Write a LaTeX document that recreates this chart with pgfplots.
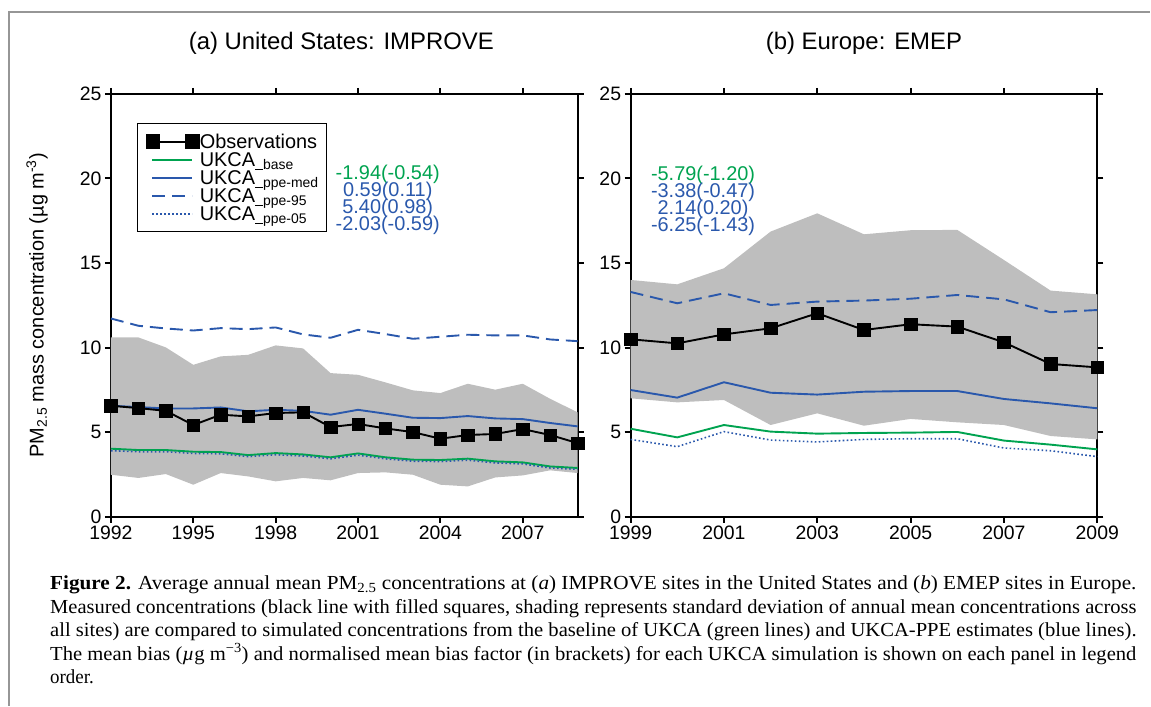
\documentclass[border=0pt]{standalone}
\usepackage{fontspec}
\setmainfont{Liberation Sans}
\newfontfamily\capfont{Liberation Serif}
\usepackage{graphicx}
\usepackage{pgfplots}
\pgfplotsset{compat=1.18}
\usepackage{pgfplotstable}
\usepgfplotslibrary{fillbetween}

\definecolor{ukgreen}{RGB}{0,163,80}
\definecolor{ukblue}{RGB}{42,88,172}
\definecolor{shadegray}{RGB}{190,190,190}
\definecolor{framegray}{RGB}{150,150,150}

\pgfplotstableread{
year obs med p95 base p05 up lo
1992 6.56 6.56 11.72 4.02 3.90 10.60 2.48
1993 6.42 6.48 11.29 3.94 3.84 10.60 2.29
1994 6.26 6.40 11.13 3.94 3.84 10.01 2.52
1995 5.42 6.40 11.01 3.84 3.74 8.98 1.89
1996 6.03 6.46 11.15 3.82 3.72 9.48 2.58
1997 5.93 6.23 11.09 3.64 3.55 9.57 2.38
1998 6.13 6.32 11.19 3.76 3.66 10.13 2.09
1999 6.17 6.26 10.78 3.68 3.59 9.95 2.29
2000 5.30 6.03 10.58 3.51 3.42 8.49 2.15
2001 5.48 6.32 11.05 3.74 3.64 8.39 2.58
2002 5.22 6.09 10.80 3.51 3.42 7.94 2.62
2003 5.00 5.85 10.52 3.37 3.28 7.47 2.48
2004 4.61 5.83 10.64 3.35 3.26 7.31 1.89
2005 4.83 5.95 10.76 3.43 3.34 7.86 1.79
2006 4.89 5.81 10.72 3.27 3.18 7.51 2.32
2007 5.18 5.77 10.72 3.21 3.12 7.86 2.44
2008 4.83 5.54 10.48 2.97 2.88 6.97 2.74
2009 4.35 5.34 10.38 2.88 2.80 6.17 2.58
}\usdata

\pgfplotstableread{
year obs med p95 base p05 up lo
1999 10.49 7.49 13.29 5.20 4.57 14.00 7.00
2000 10.25 7.04 12.62 4.69 4.14 13.74 6.76
2001 10.78 7.95 13.21 5.42 5.03 14.69 6.90
2002 11.14 7.33 12.52 5.03 4.53 16.86 5.42
2003 12.03 7.22 12.72 4.91 4.42 17.94 6.11
2004 11.04 7.39 12.78 4.95 4.57 16.70 5.38
2005 11.38 7.43 12.89 4.97 4.61 16.94 5.78
2006 11.24 7.43 13.11 5.01 4.61 16.96 5.58
2007 10.31 6.96 12.85 4.50 4.06 15.18 5.42
2008 9.03 6.70 12.09 4.26 3.90 13.37 4.77
2009 8.83 6.41 12.22 3.98 3.55 13.15 4.57
}\eudata

\pgfplotsset{
  panel/.style={
    scale only axis, width=467bp, height=423bp,
    ymin=0, ymax=25, ytick={0,5,10,15,20,25},
    axis line style={line width=2bp},
    tick style={black, line width=2bp},
    major tick length=6bp,
    tick align=outside,
    clip=false,
    /pgf/number format/assume math mode=true,
    ticklabel style={font=\fontsize{19.5}{19.5}\selectfont},
    x tick label style={/pgf/number format/1000 sep={}, inner sep=3bp},
    title style={font=\fontsize{24}{24}\selectfont, anchor=center},
  },
  sdline/.style={line width=1.9bp},
}

\begin{document}
\begin{tikzpicture}
\draw[framegray, line width=1.5bp] (9bp,-706bp) -- (9bp,-12bp) -- (1151bp,-12bp);

% ---------- panel (a)
\begin{axis}[panel, at={(111bp,-517bp)}, anchor=south west,
  xmin=1992, xmax=2009, xtick={1992,1995,1998,2001,2004,2007},
  title={(a) United States: IMPROVE},
  title style={at={(axis description cs:0.4936,1.106)}},
  ylabel={PM\textsubscript{2.5} mass concentration (µg m\textsuperscript{-3})},
  ylabel style={font=\fontsize{20}{20}\selectfont, at={(axis description cs:-0.158,0.5)}, anchor=center},
  legend cell align=left,
  legend style={at={(axis description cs:0.0557,0.931)}, anchor=north west,
    draw=black, line width=1.3bp, inner xsep=8bp, inner ysep=9bp,
    font=\fontsize{20}{20}\selectfont,
    nodes={inner sep=0pt, text height=16bp, text depth=2bp},
    row 1/.style={nodes={text height=19bp}},
    row sep=0pt, column sep=0pt},
]
\addlegendimage{legend image code/.code={
  \draw[black,line width=1.9bp] (6bp,0bp)--(46bp,0bp);
  \fill[black] (0bp,-6.75bp) rectangle (13.5bp,6.75bp);
  \fill[black] (39.5bp,-6.75bp) rectangle (53bp,6.75bp);}}
\addlegendimage{legend image code/.code={\draw[ukgreen,line width=1.9bp] (6bp,0bp)--(46bp,0bp);}}
\addlegendimage{legend image code/.code={\draw[ukblue,line width=1.9bp] (6bp,0bp)--(46bp,0bp);}}
\addlegendimage{legend image code/.code={\draw[ukblue,line width=1.9bp,dash pattern=on 13bp off 7bp] (6bp,0bp)--(46bp,0bp);}}
\addlegendimage{legend image code/.code={\draw[ukblue,line width=1.6bp,dash pattern=on 1.6bp off 2.4bp] (6bp,0bp)--(46bp,0bp);}}
\legend{Observations,
  UKCA\textsubscript{\rule{8bp}{1.2bp}base},
  UKCA\textsubscript{\rule{8bp}{1.2bp}ppe-med},
  UKCA\textsubscript{\rule{8bp}{1.2bp}ppe-95},
  UKCA\textsubscript{\rule{8bp}{1.2bp}ppe-05}}

\addplot[draw=none, name path=usup, forget plot] table[x=year, y=up] {\usdata};
\addplot[draw=none, name path=uslo, forget plot] table[x=year, y=lo] {\usdata};
\addplot[shadegray, forget plot] fill between[of=usup and uslo];
\addplot[ukgreen, sdline, forget plot] table[x=year, y=base] {\usdata};
\addplot[ukblue, line width=1.6bp, dash pattern=on 1.6bp off 2.4bp, forget plot] table[x=year, y=p05] {\usdata};
\addplot[ukblue, sdline, forget plot] table[x=year, y=med] {\usdata};
\addplot[ukblue, sdline, dash pattern=on 13bp off 7bp, forget plot] table[x=year, y=p95] {\usdata};
\addplot[black, sdline, mark=square*, mark size=6.25bp, mark options={solid, line width=0.5bp}, forget plot] table[x=year, y=obs] {\usdata};
\end{axis}

% ---------- panel (b)
\begin{axis}[panel, at={(631bp,-517bp)}, anchor=south west,
  xmin=1999, xmax=2009, xtick={1999,2001,2003,2005,2007,2009},
  title={(b) Europe: EMEP},
  title style={at={(axis description cs:0.5,1.106)}},
]
\addplot[draw=none, name path=euup, forget plot] table[x=year, y=up] {\eudata};
\addplot[draw=none, name path=eulo, forget plot] table[x=year, y=lo] {\eudata};
\addplot[shadegray, forget plot] fill between[of=euup and eulo];
\addplot[ukgreen, sdline, forget plot] table[x=year, y=base] {\eudata};
\addplot[ukblue, line width=1.6bp, dash pattern=on 1.6bp off 2.4bp, forget plot] table[x=year, y=p05] {\eudata};
\addplot[ukblue, sdline, forget plot] table[x=year, y=med] {\eudata};
\addplot[ukblue, sdline, dash pattern=on 13bp off 7bp, forget plot] table[x=year, y=p95] {\eudata};
\addplot[black, sdline, mark=square*, mark size=6.25bp, mark options={solid, line width=0.5bp}, forget plot] table[x=year, y=obs] {\eudata};
\end{axis}

% ---------- bias annotations
\begin{scope}[every node/.style={anchor=base, inner sep=0pt, font=\fontsize{20}{20}\selectfont}]
\node[text=ukgreen] at (388bp,-180bp) {-1.94(-0.54)};
\node[text=ukblue]  at (388bp,-197bp) {0.59(0.11)};
\node[text=ukblue]  at (388bp,-214bp) {5.40(0.98)};
\node[text=ukblue]  at (388bp,-231bp) {-2.03(-0.59)};
\node[text=ukgreen] at (703.5bp,-181bp) {-5.79(-1.20)};
\node[text=ukblue]  at (703.5bp,-198bp) {-3.38(-0.47)};
\node[text=ukblue]  at (703.5bp,-215bp) {2.14(0.20)};
\node[text=ukblue]  at (703.5bp,-232bp) {-6.25(-1.43)};
\end{scope}

% ---------- caption
\begin{scope}[every node/.style={anchor=base west, inner sep=0pt, font=\capfont\fontsize{20}{20}\selectfont, text=black}]
\node at (50bp,-590bp) {\resizebox{1087bp}{\height}{\textbf{Figure 2.} Average annual mean PM\textsubscript{2.5} concentrations at (\textit{a}) IMPROVE sites in the United States and (\textit{b}) EMEP sites in Europe.}};
\node at (50bp,-613.5bp) {\resizebox{1087bp}{\height}{Measured concentrations (black line with filled squares, shading represents standard deviation of annual mean concentrations across}};
\node at (50bp,-637bp) {\resizebox{1087bp}{\height}{all sites) are compared to simulated concentrations from the baseline of UKCA (green lines) and UKCA-PPE estimates (blue lines).}};
\node at (50bp,-660.5bp) {\resizebox{1087bp}{\height}{The mean bias (\textit{µ}g m\textsuperscript{−3}) and normalised mean bias factor (in brackets) for each UKCA simulation is shown on each panel in legend}};
\node at (50bp,-684bp) {\scalebox{0.95}[1]{order.}};
\end{scope}
\path[use as bounding box] (0bp,0bp) rectangle (1151bp,-706bp);
\end{tikzpicture}
\end{document}
